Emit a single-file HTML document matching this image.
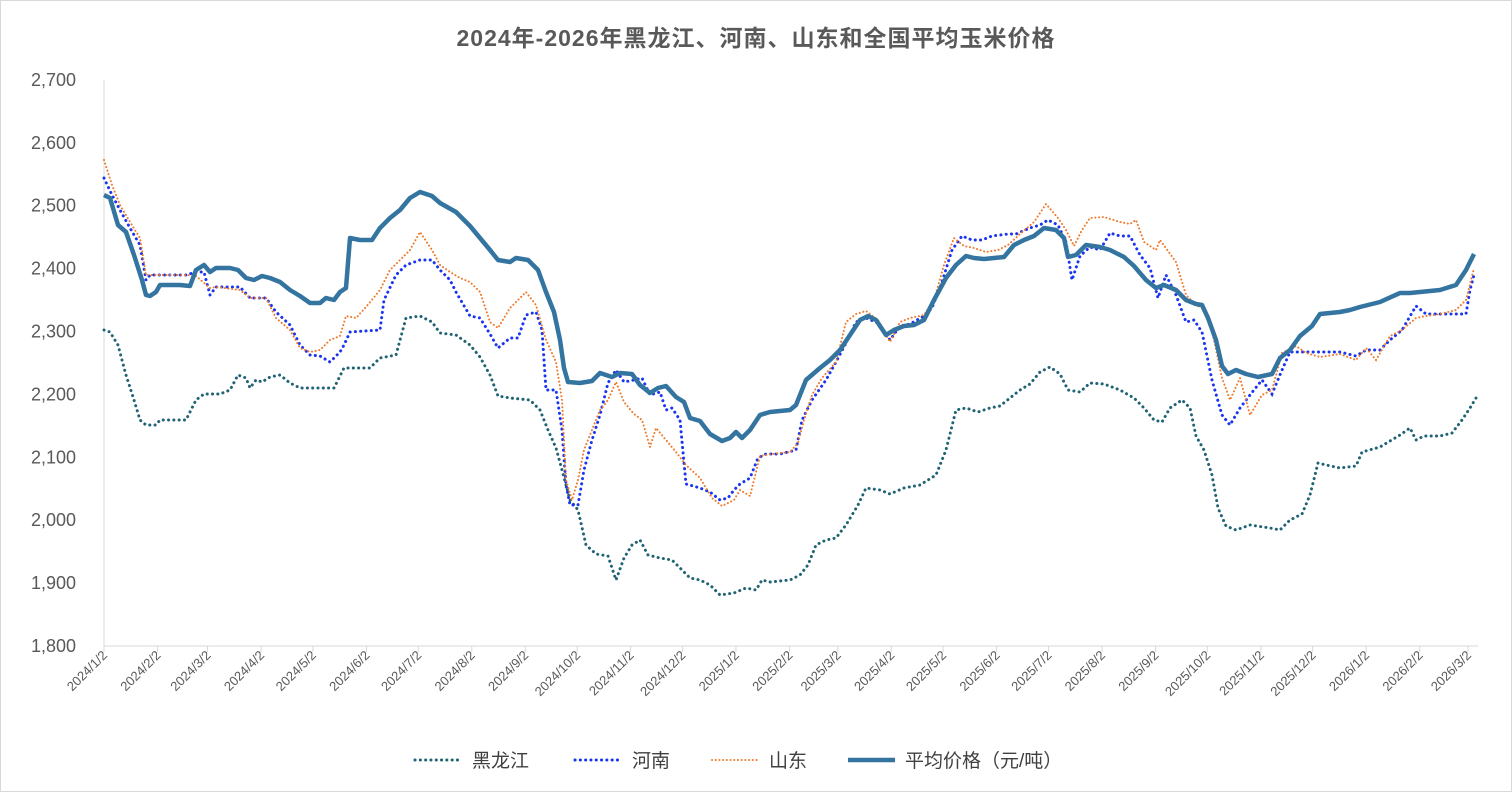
<!DOCTYPE html>
<html><head><meta charset="utf-8"><style>
html,body{margin:0;padding:0;background:#fff;}
body{width:1512px;height:792px;overflow:hidden;}
svg{display:block;font-family:"Liberation Sans","Noto Sans CJK SC",sans-serif;}
</style></head><body>
<svg id="c" width="1512" height="792" xmlns="http://www.w3.org/2000/svg">
<rect x="0.5" y="0.5" width="1511" height="791" fill="#fff" stroke="#d9d9d9"/>
<text x="756" y="46" text-anchor="middle" font-size="23" font-weight="bold" fill="#595959" letter-spacing="1">2024年-2026年黑龙江、河南、山东和全国平均玉米价格</text>
<g id="ax"></g>
<polyline id="hlj" fill="none" stroke="#1f6374" stroke-width="3" stroke-dasharray="0.1 5.2" stroke-linecap="round"/>
<polyline id="hn" fill="none" stroke="#1a35f0" stroke-width="3" stroke-dasharray="0.1 5.2" stroke-linecap="round"/>
<polyline id="sd" fill="none" stroke="#f07a2c" stroke-width="2" stroke-dasharray="0.1 3.6" stroke-linecap="round"/>
<polyline id="avg" fill="none" stroke="#3474a0" stroke-width="4.5" stroke-linejoin="round"/>
<g font-size="19" fill="#404040">
<line x1="415" y1="760" x2="462" y2="760" stroke="#1f6374" stroke-width="3" stroke-dasharray="0.1 5.2" stroke-linecap="round"/>
<text x="472" y="767">黑龙江</text>
<line x1="575" y1="760" x2="622" y2="760" stroke="#1a35f0" stroke-width="3" stroke-dasharray="0.1 5.2" stroke-linecap="round"/>
<text x="632" y="767">河南</text>
<line x1="712" y1="760" x2="759" y2="760" stroke="#f07a2c" stroke-width="2" stroke-dasharray="0.1 3.6" stroke-linecap="round"/>
<text x="769" y="767">山东</text>
<line x1="848" y1="760" x2="895" y2="760" stroke="#3474a0" stroke-width="4.5"/>
<text x="905" y="767">平均价格（元/吨）</text>
</g>
</svg>
<script>
var ns="http://www.w3.org/2000/svg",ax=document.getElementById('ax');
function el(t,a,txt){var e=document.createElementNS(ns,t);for(var k in a)e.setAttribute(k,a[k]);if(txt)e.textContent=txt;ax.appendChild(e);return e;}
el('line',{x1:104,y1:80,x2:104,y2:646,stroke:'#d9d9d9','stroke-width':1});
el('line',{x1:104,y1:646,x2:1478,y2:646,stroke:'#d9d9d9','stroke-width':1});
for(var i=0;i<=9;i++){var v=1800+i*100,y=646-i*62.9;
el('text',{x:76,y:y+6,'text-anchor':'end','font-size':18,fill:'#595959'},v.toLocaleString('en-US'));}
var d=[0,31,60,91,121,152,182,213,244,274,305,335,366,397,425,456,486,517,547,578,609,639,670,700,731,762,790];
var lab=['2024/1/2','2024/2/2','2024/3/2','2024/4/2','2024/5/2','2024/6/2','2024/7/2','2024/8/2','2024/9/2','2024/10/2','2024/11/2','2024/12/2','2025/1/2','2025/2/2','2025/3/2','2025/4/2','2025/5/2','2025/6/2','2025/7/2','2025/8/2','2025/9/2','2025/10/2','2025/11/2','2025/12/2','2026/1/2','2026/2/2','2026/3/2'];
d.forEach(function(dd,i){var x=104+dd*1.7266;
el('line',{x1:x,y1:646,x2:x,y2:652,stroke:'#d9d9d9'});
el('text',{x:x+4,y:656,'text-anchor':'end','font-size':13,fill:'#595959',transform:'rotate(-45 '+(x+4)+' 656)'},lab[i]);});
function set(id,a){var s=[];for(var i=0;i<a.length;i+=2)s.push(a[i]+','+a[i+1]);document.getElementById(id).setAttribute('points',s.join(' '));}
set('avg',[104,195,110,198,118,225,126,232,134,255,142,280,146,295,150,296,156,292,160,285,180,285,190,286,196,270,204,265,210,272,216,268,230,268,238,270,246,278,254,280,262,276,270,278,280,282,290,290,300,296,310,303,320,303,326,298,334,300,340,292,346,288,350,238,360,240,372,240,380,228,390,218,400,210,410,198,420,192,432,196,440,203,456,212,470,226,480,238,490,250,498,260,510,262,516,258,528,260,538,270,546,292,554,312,560,340,564,368,568,382,580,383,592,381,600,373,612,377,620,373,632,374,640,385,650,393,658,388,666,386,676,397,684,402,690,418,700,421,710,434,722,441,730,438,736,432,742,438,750,430,760,415,770,412,790,410,796,405,806,380,820,368,830,360,840,350,850,335,860,320,868,316,876,320,886,335,894,330,904,326,914,325,924,320,934,300,946,278,956,265,966,256,974,258,984,259,994,258,1004,257,1014,245,1024,240,1034,236,1044,228,1056,230,1064,238,1068,257,1076,255,1086,245,1100,247,1110,250,1124,257,1134,266,1146,280,1156,288,1164,285,1176,290,1186,300,1196,304,1202,305,1208,318,1216,340,1222,366,1228,374,1236,370,1246,374,1258,377,1272,374,1280,358,1290,350,1300,336,1312,326,1320,314,1330,313,1340,312,1350,310,1360,307,1380,302,1400,293,1410,293,1420,292,1440,290,1456,285,1466,270,1474,254]);
set('hlj',[104,330,110,332,118,345,126,375,134,400,140,420,146,425,156,425,160,420,186,420,196,400,204,394,220,394,230,390,238,375,246,378,250,388,256,380,262,382,270,377,280,375,290,383,300,388,320,388,334,388,344,368,354,368,370,368,380,358,396,355,406,318,420,316,432,322,440,333,456,335,470,345,480,357,490,375,498,396,510,398,530,400,540,410,548,430,556,448,562,470,570,500,578,510,586,545,596,554,608,556,616,580,624,558,632,545,640,540,648,555,660,558,672,560,680,568,690,578,700,580,710,585,720,595,734,593,746,588,756,590,762,580,770,582,790,580,800,575,808,565,816,545,826,540,836,538,846,525,858,505,866,488,880,490,890,494,904,488,920,485,936,475,946,450,956,410,966,408,978,412,990,408,1000,406,1010,398,1020,390,1030,384,1040,372,1050,367,1060,374,1068,390,1080,392,1090,383,1104,384,1120,390,1134,398,1144,408,1154,420,1162,422,1170,408,1182,400,1190,408,1196,436,1204,450,1212,475,1218,508,1226,526,1236,530,1250,525,1270,528,1280,530,1290,520,1302,514,1310,495,1318,463,1326,465,1340,468,1356,466,1362,452,1380,447,1400,435,1410,428,1416,440,1424,436,1440,436,1452,433,1462,420,1470,408,1476,398]);
set('hn',[104,178,112,195,120,210,130,228,140,245,146,280,150,275,186,275,196,272,204,272,210,295,216,287,240,287,250,298,266,298,276,312,290,325,300,345,310,355,320,356,330,362,340,352,344,345,350,332,380,330,384,300,396,275,406,265,420,260,432,260,440,270,450,280,456,292,470,316,480,318,490,334,498,348,510,338,518,338,526,315,536,312,542,330,546,390,556,390,562,430,566,485,570,505,578,505,584,470,592,440,600,415,608,383,616,370,624,382,634,380,642,378,650,395,660,392,666,410,672,408,680,420,686,484,700,488,710,492,720,500,728,498,734,490,740,484,750,478,758,458,766,454,780,454,796,450,802,420,812,400,826,380,836,362,846,343,856,322,866,318,878,323,890,340,900,326,910,324,924,316,932,308,942,282,952,250,962,236,972,240,982,240,992,236,1008,234,1016,234,1030,228,1040,225,1048,220,1058,225,1066,242,1072,280,1080,256,1090,247,1100,250,1110,233,1120,236,1130,236,1140,255,1150,268,1158,298,1166,275,1176,295,1186,322,1194,320,1202,332,1212,380,1222,415,1230,425,1240,408,1250,395,1262,380,1272,394,1282,370,1290,352,1300,352,1320,352,1340,352,1356,356,1366,350,1380,350,1390,340,1402,330,1416,306,1426,314,1440,314,1456,314,1466,314,1470,290,1474,275]);
set('sd',[104,160,112,185,120,205,130,222,140,238,146,275,186,275,196,276,210,288,216,287,240,290,250,298,266,298,276,318,290,330,300,348,310,352,320,350,330,340,340,336,346,316,356,318,366,307,380,290,390,270,400,260,410,250,420,232,432,250,440,265,450,272,460,278,470,282,480,292,490,322,498,328,510,308,518,300,526,292,536,305,546,340,556,362,562,400,566,480,572,500,578,480,584,450,592,430,600,410,608,400,616,382,624,402,634,414,642,420,650,447,656,428,666,440,676,452,686,465,700,478,712,498,722,506,734,500,740,490,750,496,760,456,772,454,790,452,798,443,804,420,812,395,822,378,836,362,846,322,856,314,866,311,878,320,890,342,900,322,910,318,924,315,934,300,944,265,954,238,964,246,974,248,986,252,998,250,1008,245,1020,234,1034,222,1046,204,1058,218,1066,230,1074,246,1082,230,1090,218,1104,217,1120,222,1130,224,1136,220,1144,242,1156,250,1160,240,1176,262,1186,295,1196,305,1206,310,1214,340,1222,378,1230,400,1240,378,1250,415,1262,395,1272,390,1282,353,1296,346,1306,353,1320,357,1340,354,1356,360,1366,348,1376,360,1390,336,1402,330,1416,318,1426,316,1440,314,1456,310,1466,300,1474,268]);
</script>
</body></html>
